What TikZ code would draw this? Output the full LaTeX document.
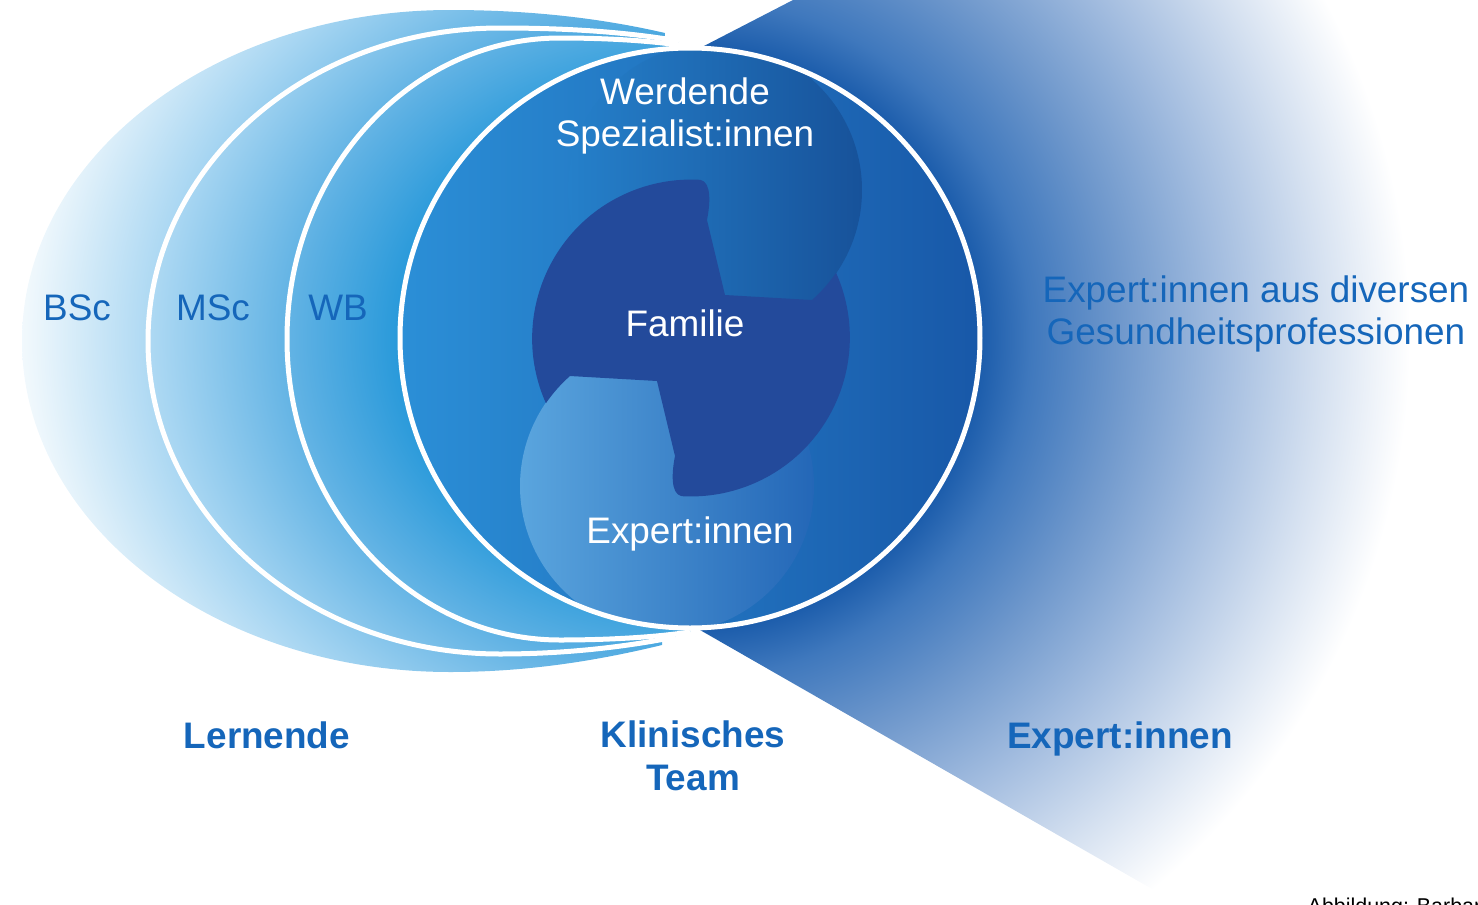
\documentclass[tikz,border=0pt]{standalone}
\usepackage{fontspec}
\setmainfont{Liberation Sans}
\usepackage{xcolor}
\usepackage{tikz}

\definecolor{lernA}{HTML}{2899DA}
\definecolor{lernB}{HTML}{5CB0E3}
\definecolor{lernC}{HTML}{A8D6F2}
\definecolor{lernD}{HTML}{EEF7FC}
\definecolor{expA}{HTML}{1B5CAB}
\definecolor{expB}{HTML}{3F78BD}
\definecolor{expC}{HTML}{6F98CC}
\definecolor{expD}{HTML}{A2BCDF}
\definecolor{expE}{HTML}{D4E0F0}
\definecolor{circL}{HTML}{2B8FD7}
\definecolor{circR}{HTML}{1858A8}
\definecolor{werL}{HTML}{2580CA}
\definecolor{werR}{HTML}{17529A}
\definecolor{expL}{HTML}{5AA5DE}
\definecolor{expR}{HTML}{2467B7}
\definecolor{famcol}{HTML}{234A9B}
\definecolor{lblue}{HTML}{1566BA}

% radial fades round the team circle (25bp = 800px across)
\pgfdeclareradialshading{lernfade}{\pgfpointorigin}{color(0bp)=(lernA);
  color(9.06bp)=(lernA); color(12.19bp)=(lernB); color(16.56bp)=(lernC);
  color(20.63bp)=(lernD); color(21.88bp)=(white); color(40bp)=(white)}
\pgfdeclareradialshading{expfade}{\pgfpointorigin}{color(0bp)=(expA);
  color(9.06bp)=(expA); color(10.63bp)=(expB); color(13.44bp)=(expC);
  color(16.56bp)=(expD); color(19.69bp)=(expE); color(22.5bp)=(white);
  color(40bp)=(white)}

% outer edges of the three rings
\newcommand{\bscedge}{(665,33) .. controls (600,18) and (530,10) .. (450,10)
  arc[start angle=270, end angle=90, x radius=428, y radius=331]
  .. controls (530,672) and (600,660) .. (662,645)}
\newcommand{\mscedge}{(679,41) .. controls (620,31) and (560,28) .. (500,28)
  arc[start angle=270, end angle=90, x radius=352, y radius=313]
  .. controls (560,654) and (620,648) .. (675,637)}
\newcommand{\wbedge}{(692,47) .. controls (650,40) and (600,38) .. (560,38)
  arc[start angle=270, end angle=90, x radius=273, y radius=301]
  .. controls (600,640) and (650,638) .. (690,632)}

\begin{document}
\begin{tikzpicture}[
  x=0.1mm, y=-0.1mm,
  every node/.style={inner sep=0pt, font=\fontsize{10.5}{12.2}\selectfont},
  ringlab/.style={text=lblue},
  innerlab/.style={text=white, align=center},
  grouplab/.style={text=lblue, align=center,
    font=\fontsize{10.5}{12.2}\selectfont\bfseries},
  rim/.style={draw=white, line width=0.5mm}
]
  \useasboundingbox (0,0) rectangle (1478,905);

  % experts cone
  \begin{scope}
    \clip (702,47) -- (793,0) -- (1478,0) -- (1478,905) -- (1180,905)
      -- (700,630) -- (690,338) -- cycle;
    \shade[shading=expfade] (-110,-462) rectangle (1490,1138);
  \end{scope}

  % learner rings
  \begin{scope}
    \clip \bscedge -- cycle;
    \shade[shading=lernfade] (-110,-342) rectangle (1490,1018);
  \end{scope}
  \begin{scope}
    \clip \mscedge -- cycle;
    \shade[shading=lernfade] (-110,-342) rectangle (1490,1018);
  \end{scope}
  \draw[rim] \mscedge;
  \begin{scope}
    \clip \wbedge -- cycle;
    \shade[shading=lernfade] (-110,-342) rectangle (1490,1018);
  \end{scope}
  \draw[rim] \wbedge;

  % clinical team circle
  \shade[left color=circL, right color=circR] (690,338) circle (290);
  \begin{scope}
    \clip (690,338) circle (290);
    \shade[left color=werL, right color=werR] (715,190) circle (147);
    \shade[left color=expL, right color=expR] (667,486) circle (147);
    \fill[famcol] (812,300) arc[start angle=48.6, end angle=34.4, radius=147]
      arc[start angle=-24, end angle=93.3, radius=159]
      .. controls (670,494) and (672,471) .. (675,456) -- (657,381) -- (570,376)
      arc[start angle=228.6, end angle=214.4, radius=147]
      arc[start angle=156, end angle=273.3, radius=159]
      .. controls (712,182) and (710,205) .. (707,220) -- (725,295) -- cycle;
  \end{scope}
  \draw[rim] (690,338) circle (290);

  \node[ringlab, anchor=base] (bsc) at (77,320) {BSc};
  \node[ringlab, anchor=base] (msc) at (213,320) {MSc};
  \node[ringlab, anchor=base] (wb) at (338,320) {WB};
  \node[innerlab] (werdende) at (685,116) {Werdende\\Spezialist:innen};
  \node[innerlab, anchor=base] (familie) at (685,336) {Familie};
  \node[innerlab, anchor=base] (expint) at (690,543) {Expert:innen};
  \node[ringlab, align=center] (expext) at (1256,314)
    {Expert:innen aus diversen\\Gesundheitsprofessionen};
  \node[grouplab, anchor=base] (lernende) at (267,748) {Lernende};
  \node[grouplab] (team) at (693,756) {Klinisches\\Team};
  \node[grouplab, anchor=base] (experts) at (1120,748) {Expert:innen};
  \node[anchor=base west, font=\fontsize{6.1}{7}\selectfont] (credit)
    at (1307,913) {Abbildung: Barbar};
\end{tikzpicture}
\end{document}
